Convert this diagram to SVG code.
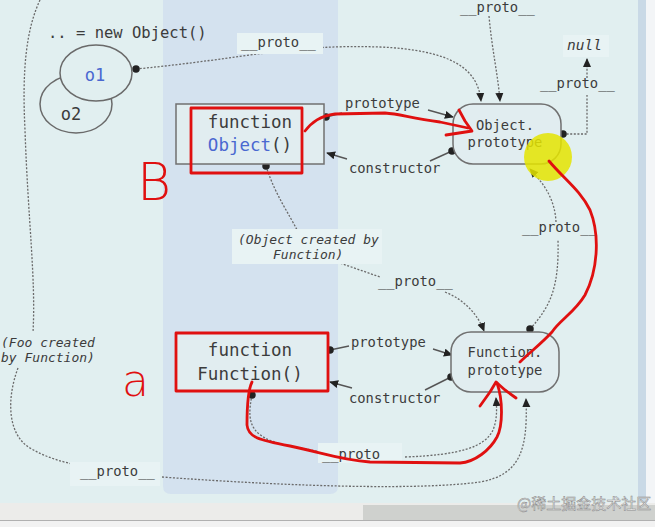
<svg xmlns="http://www.w3.org/2000/svg" width="655" height="527" viewBox="0 0 655 527">
<defs>
<style>
.mono{font-family:"DejaVu Sans Mono","Liberation Mono",monospace;fill:#3c3c3c}
.lbl{font-size:13.8px}
.ital{font-size:13px;font-style:italic}
.node{font-size:17.5px}
.pnode{font-size:13.8px}
.box{fill:#e1edf0;stroke:#707070;stroke-width:1.5}
.dash{fill:none;stroke:#6a6a6a;stroke-width:1.3;stroke-dasharray:2 1.6}
.solid{fill:none;stroke:#555;stroke-width:1.4}
.red{fill:none;stroke:#e01010;stroke-width:2.8;stroke-linecap:round;stroke-linejoin:round}
.lbg{fill:#e8f3f4}
</style>
<marker id="arr" viewBox="0 0 10 10" refX="9" refY="5" markerWidth="9" markerHeight="9" markerUnits="userSpaceOnUse" orient="auto">
<path d="M0,0.5 L10,5 L0,9.5 z" fill="#222"/>
</marker>
<marker id="dot" viewBox="0 0 10 10" refX="5" refY="5" markerWidth="7.5" markerHeight="7.5" markerUnits="userSpaceOnUse">
<circle cx="5" cy="5" r="5" fill="#222"/>
</marker>
</defs>

<!-- background -->
<rect x="0" y="0" width="655" height="527" fill="#e1eff0"/>
<path d="M163,0 H338 V486 Q338,494 330,494 H171 Q163,494 163,486 Z" fill="#d4e2ef"/>
<rect x="638" y="0" width="8" height="505" fill="#c9d9e6"/>
<rect x="646" y="0" width="9" height="505" fill="#f3f5f7"/>
<rect x="0" y="503" width="655" height="18" fill="#ececea"/>
<rect x="363" y="505" width="292" height="15" fill="#cfd1ce"/>
<rect x="0" y="520" width="655" height="1.2" fill="#b0b0b0"/>
<rect x="0" y="521" width="655" height="6" fill="#f2f2f2"/>

<!-- connectors -->
<g id="connectors">
<path class="dash" d="M136,69 C250,58 290,44 380,47 C450,50 478,68 481,101" marker-start="url(#dot)" marker-end="url(#arr)"/>
<path class="dash" d="M489,16 C492,50 498,75 500,101" marker-end="url(#arr)"/>
<path class="dash" d="M563,134 L587,134 L587,95" marker-start="url(#dot)"/>
<path class="dash" d="M587,78 L587,59" marker-end="url(#arr)"/>
<path class="solid" d="M326,117 L342,113" marker-start="url(#dot)"/>
<path class="solid" d="M428,110 L453,117" marker-end="url(#arr)"/>
<path class="solid" d="M452,151 L430,161" marker-start="url(#dot)"/>
<path class="solid" d="M347,159 L327,153" marker-end="url(#arr)"/>
<path class="dash" d="M266,166 C275,195 290,215 298,232" marker-start="url(#dot)"/>
<path class="dash" d="M337,262 L380,277"/>
<path class="dash" d="M445,292 C465,300 478,315 484,331" marker-end="url(#arr)"/>
<path class="dash" d="M530,329 C552,305 559,285 558,240" marker-start="url(#dot)"/>
<path class="dash" d="M556,222 C555,200 545,185 530,169" marker-end="url(#arr)"/>
<path class="solid" d="M330,350 L349,346" marker-start="url(#dot)"/>
<path class="solid" d="M433,349 L452,355" marker-end="url(#arr)"/>
<path class="solid" d="M451,377 L425,390" marker-start="url(#dot)"/>
<path class="solid" d="M352,388 L330,382" marker-end="url(#arr)"/>
<path class="dash" d="M252,395 C246,425 250,440 300,448 C312,450 320,452 324,453" marker-start="url(#dot)"/>
<path class="dash" d="M405,457 C460,455 485,447 493,430 C497,420 497,410 496,398" marker-end="url(#arr)"/>
<path class="dash" d="M40,0 C26,30 22,70 25,130 C28,220 36,280 33,332"/>
<path class="dash" d="M18,368 C6,400 8,435 30,448 C45,457 60,461 72,464"/>
<path class="dash" d="M162,477 C300,487 420,490 480,482 C520,475 528,450 526,399" marker-end="url(#arr)"/>

<!-- connector labels -->
<rect class="lbg" x="237" y="33" width="86" height="21"/>
<text class="mono lbl" x="241" y="47">__proto__</text>
<text class="mono lbl" x="460" y="12">__proto__</text>
<rect class="lbg" x="563" y="35" width="46" height="22"/>
<text class="mono" x="567" y="50" style="font-size:14.5px;font-style:italic">null</text>
<text class="mono lbl" x="540" y="88">__proto__</text>
<text class="mono lbl" x="345" y="108">prototype</text>
<text class="mono lbl" x="349" y="173">constructor</text>
<rect class="lbg" x="232" y="229" width="150" height="35"/>
<text class="mono ital" x="238" y="244">(Object created by</text>
<text class="mono ital" x="273" y="259">Function)</text>
<text class="mono lbl" x="378" y="286">__proto__</text>
<text class="mono lbl" x="522" y="232">__proto__</text>
<text class="mono lbl" x="351" y="347">prototype</text>
<text class="mono lbl" x="349" y="403">constructor</text>
<rect class="lbg" x="318" y="443" width="84" height="20"/>
<text class="mono lbl" x="322" y="459">__proto__</text>
<text class="mono ital" x="1" y="347">(Foo created</text>
<text class="mono ital" x="1" y="362">by Function)</text>
<rect class="lbg" x="70" y="462" width="90" height="24"/>
<text class="mono lbl" x="80" y="476">__proto__</text>
</g>

<!-- nodes -->
<g id="caption">
<text class="mono" x="48" y="38" style="font-size:15.5px">.. = new Object()</text>
</g>
<g id="o2">
<ellipse cx="76" cy="104" rx="36" ry="29" fill="#e1eff0" stroke="#6a6a6a" stroke-width="1.5"/>
<text class="mono" x="71" y="120" text-anchor="middle" style="font-size:17px">o2</text>
</g>
<g id="o1">
<ellipse cx="96" cy="73" rx="36" ry="28" fill="#e1eff0" stroke="#6a6a6a" stroke-width="1.5"/>
<text class="mono" x="95" y="81" text-anchor="middle" style="font-size:17px;fill:#4a68d0">o1</text>
</g>
<g id="object-fn">
<rect class="box" x="176" y="104" width="148" height="60"/>
<text class="mono node" x="250" y="128" text-anchor="middle">function</text>
<text class="mono node" x="250" y="151" text-anchor="middle"><tspan style="fill:#4a68d0">Object</tspan>()</text>
</g>
<g id="object-prototype">
<rect class="box" x="453" y="104" width="108" height="60" rx="20"/>
<text class="mono pnode" x="505" y="130" text-anchor="middle">Object.</text>
<text class="mono pnode" x="505" y="147" text-anchor="middle">prototype</text>
</g>
<g id="function-fn">
<rect class="box" x="176" y="333" width="152" height="58"/>
<text class="mono node" x="250" y="356" text-anchor="middle">function</text>
<text class="mono node" x="250" y="380" text-anchor="middle">Function()</text>
</g>
<g id="function-prototype">
<rect class="box" x="451" y="332" width="108" height="60" rx="20"/>
<text class="mono pnode" x="505" y="357" text-anchor="middle">Function.</text>
<text class="mono pnode" x="505" y="375" text-anchor="middle">prototype</text>
</g>

<!-- red annotations -->
<g id="annotations">
<circle cx="548" cy="157" r="24" fill="#e4e400" opacity="0.85"/>
<rect class="red" x="191" y="108" width="111" height="65"/>
<rect class="red" x="176" y="333" width="152" height="58"/>
<path class="red" d="M305,131 C312,122 320,116 335,114 L385,113 C400,114 410,118 440,122 L468,128"/>
<path class="red" d="M459,110 L465,121 L472,131 L446,135"/>
<path class="red" d="M549,161 C565,180 580,190 590,210 C600,235 598,270 585,295 C575,312 560,320 552,332 C540,345 530,352 520,362"/>
<path class="red" d="M252,382 C248,390 247,405 247,425 C248,437 258,440 290,446 C320,452 340,460 370,462 L460,463 C475,462 490,450 497,437 C503,425 503,400 497,383"/>
<path class="red" d="M480,406 L490,392 L496,382 L505,390 L516,398"/>
<text x="137" y="200" style="font-family:'DejaVu Sans ExtraLight','DejaVu Sans',sans-serif;font-weight:200;font-size:52px;fill:#e01010">B</text>
<text x="122" y="396" style="font-family:'DejaVu Sans ExtraLight','DejaVu Sans',sans-serif;font-weight:200;font-size:44px;fill:#e01010">a</text>
</g>

<g id="watermark">
<text x="517" y="509" style="font-family:'Noto Sans CJK SC',sans-serif;font-size:15px;fill:#eeeeee;stroke:#8a8a8a;stroke-width:0.5">@稀土掘金技术社区</text>
</g>
</svg>
